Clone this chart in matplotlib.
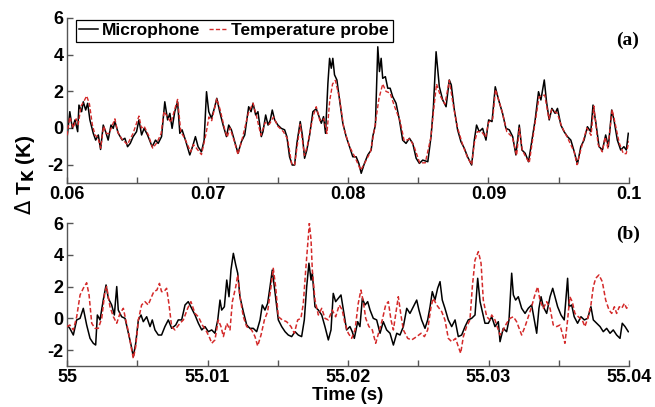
import matplotlib
matplotlib.use("Agg")
import matplotlib.pyplot as plt

# ---------------- Panel (a) data ----------------
a_t_mic = [0.0600, 0.06020, 0.06038, 0.06057, 0.06076, 0.06085, 0.06104, 0.06116, 0.06133, 0.06147,
           0.06163, 0.06187, 0.06204, 0.06223, 0.06239, 0.06258, 0.06275, 0.06293, 0.06313, 0.06329,
           0.06341, 0.06365, 0.06393, 0.06412, 0.06431, 0.06450, 0.06471, 0.06495, 0.06512, 0.06531,
           0.06549, 0.06573, 0.06606, 0.06630, 0.06649, 0.06673, 0.06696, 0.06716, 0.06732, 0.06748,
           0.06767, 0.06787, 0.06803, 0.06819, 0.06843, 0.06874, 0.06897, 0.06914, 0.06933, 0.06957,
           0.06976, 0.06993, 0.07009, 0.07028, 0.07052, 0.07066, 0.07087, 0.07111, 0.07135, 0.07151,
           0.07170, 0.07194, 0.07217, 0.07241, 0.07265, 0.07293, 0.07310, 0.07324, 0.07343, 0.07359,
           0.07383, 0.07395, 0.07414, 0.07431, 0.07447, 0.07461, 0.07478, 0.07501, 0.07525, 0.07549,
           0.07565, 0.07584, 0.07603, 0.07620, 0.07636, 0.07660, 0.07675, 0.07691, 0.07707, 0.07727,
           0.07750, 0.07774, 0.07790, 0.07810, 0.07826, 0.07840, 0.07857, 0.07869, 0.07881, 0.07892,
           0.07904, 0.07921, 0.07940, 0.07963, 0.07987, 0.08011, 0.08034, 0.08058, 0.08077, 0.08094,
           0.08117, 0.08141, 0.08165, 0.08176, 0.08195, 0.08212, 0.08224, 0.08236, 0.08247, 0.08266,
           0.08283, 0.08300, 0.08318, 0.08342, 0.08366, 0.08389, 0.08413, 0.08437, 0.08461, 0.08485,
           0.08508, 0.08532, 0.08568, 0.08591, 0.08608, 0.08627, 0.08650, 0.08674, 0.08698, 0.08721,
           0.08735, 0.08757, 0.08780, 0.08804, 0.08828, 0.08851, 0.08880, 0.08899, 0.08915, 0.08934,
           0.08958, 0.08982, 0.09001, 0.09025, 0.09048, 0.09072, 0.09100, 0.09124, 0.09148, 0.09172,
           0.09195, 0.09219, 0.09238, 0.09261, 0.09285, 0.09309, 0.09332, 0.09356, 0.09373, 0.09397,
           0.09413, 0.09432, 0.09451, 0.09474, 0.09491, 0.09515, 0.09538, 0.09562, 0.09586, 0.09610,
           0.09633, 0.09657, 0.09680, 0.09704, 0.09728, 0.09744, 0.09763, 0.09787, 0.09811, 0.09834,
           0.09853, 0.09877, 0.09893, 0.09917, 0.09941, 0.09964, 0.09981, 0.09995]
a_mic = [-0.56, 0.89, -0.02, 0.44, -0.20, 1.25, 0.89, 1.43, 0.98, 1.35,
         0.44, -0.29, -0.66, -0.38, -1.17, 0.16, -0.20, -0.66, 0.16, -0.02,
         0.35, -0.29, -0.66, -0.56, -1.02, -0.84, -0.47, -0.20, 0.44, -0.38,
         -0.02, -0.38, -1.02, -0.66, -0.84, -0.47, 1.43, 0.44, 0.80, -0.02,
         0.89, 1.43, -0.29, -0.10, -0.66, -1.47, -0.93, -0.47, -1.02, -1.30,
         -0.66, 1.98, 0.89, 0.53, 1.16, 1.62, 0.89, 0.16, -0.47, 0.16,
         -0.10, -0.75, -1.38, -0.75, -0.38, 1.16, 0.89, 1.35, 0.71, 0.89,
         -0.47, -0.20, 0.71, 0.16, 0.44, 0.98, 0.44, 0.16, -0.02, -0.10,
         -0.47, -1.57, -2.02, -2.02, -0.84, 0.35, -0.38, -1.65, -1.20, -0.38,
         0.89, 1.05, 0.71, 0.26, 0.62, -0.29, 2.44, 3.80, 3.26, 3.80,
         2.90, 2.62, 1.53, 0.26, -0.47, -1.02, -1.57, -1.57, -1.93, -2.47,
         -1.93, -1.47, -1.20, -0.47, 0.16, 4.43, 3.08, 3.80, 2.71, 2.80,
         2.17, 2.17, 1.71, 1.35, 0.44, -0.66, -0.84, -0.56, -0.84, -1.65,
         -1.93, -1.75, -1.84, -0.47, 1.16, 4.16, 2.25, 1.53, 1.16, 2.62,
         2.35, 0.98, -0.10, -0.75, -1.11, -1.57, -2.02, -0.66, 0.16, -0.20,
         -0.02, -0.66, 0.44, 0.35, 2.25, 1.53, 0.80, -0.02, -0.10, -0.47,
         -1.47, 0.16, -1.20, -1.38, -1.84, -0.66, 0.44, 1.98, 1.53, 2.62,
         1.43, 0.44, 1.07, 0.80, 1.07, 0.16, -0.20, -0.47, -0.66, -1.29,
         -1.97, -1.02, -0.66, 0.07, -0.20, 1.25, 0.35, -1.02, -1.20, -0.38,
         -1.02, 0.98, 0.44, -0.66, -1.20, -1.02, -1.20, -0.29]

a_t_probe = [0.0600, 0.0602, 0.06045, 0.06065, 0.0608, 0.0610, 0.0612, 0.0614, 0.0616, 0.0618,
             0.0620, 0.0622, 0.0624, 0.0626, 0.0628, 0.0630, 0.0632, 0.06341, 0.0636, 0.0639,
             0.0643, 0.0647, 0.06512, 0.0653, 0.06549, 0.0658, 0.0661, 0.0664, 0.0667, 0.0669,
             0.06716, 0.0674, 0.06787, 0.0681, 0.0684, 0.0688, 0.0690, 0.06957, 0.0699, 0.0701,
             0.0703, 0.07066, 0.0709, 0.0712, 0.0714, 0.0716, 0.0719, 0.07217, 0.0725, 0.0729,
             0.07324, 0.0735, 0.0738, 0.0741, 0.0744, 0.0747, 0.0750, 0.0754, 0.0757, 0.0760,
             0.0762, 0.0764, 0.0766, 0.0769, 0.0771, 0.0775, 0.07774, 0.0780, 0.0783, 0.0785,
             0.0787, 0.0789, 0.0791, 0.0794, 0.0797, 0.0801, 0.0805, 0.0809, 0.0812, 0.0816,
             0.0819, 0.0822, 0.08247, 0.0827, 0.0830, 0.0833, 0.0837, 0.0840, 0.0844, 0.0847,
             0.0851, 0.0855, 0.0859, 0.0861, 0.0863, 0.0866, 0.0869, 0.08721, 0.0875, 0.0878,
             0.0882, 0.0885, 0.0888, 0.0890, 0.0892, 0.0895, 0.0898, 0.0900, 0.0903, 0.0905,
             0.0907, 0.0910, 0.0913, 0.0917, 0.0920, 0.0922, 0.0924, 0.0926, 0.0929, 0.0933,
             0.0936, 0.0940, 0.0943, 0.0945, 0.0949, 0.0952, 0.0956, 0.0961, 0.0963, 0.0966,
             0.0970, 0.0973, 0.0975, 0.0978, 0.0981, 0.0983, 0.0985, 0.0988, 0.0990, 0.0993,
             0.0996, 0.0998, 0.1000]
a_probe = [-0.40, 0.60, 0.00, 0.50, 0.20, 1.20, 1.45, 1.75, 1.30, 0.20,
           -0.40, -0.50, -1.10, 0.10, -0.30, -0.30, 0.10, 0.50, -0.20, -0.60,
           -0.90, -0.30, 0.65, 0.00, 0.10, -0.40, -1.10, -0.80, -0.30, 0.90,
           0.60, 0.30, 1.56, -0.20, -0.60, -1.30, -0.90, -1.45, -0.30, 0.60,
           0.40, 1.60, 1.00, 0.00, -0.50, 0.00, -0.70, -1.45, -0.50, 0.80,
           1.35, 0.60, -0.40, 0.30, 0.20, 0.60, 0.10, -0.20, -0.60, -2.00,
           -2.00, -0.90, 0.20, -1.50, -1.00, 0.60, 1.16, 0.40, 0.50, -0.30,
           1.50, 2.40, 2.60, 1.60, 0.00, -1.00, -1.60, -2.30, -1.90, -1.30,
           0.00, 1.60, 2.40, 2.00, 1.90, 1.20, 0.40, -0.70, -0.60, -1.00,
           -1.90, -1.90, -0.50, 1.00, 2.40, 1.70, 1.30, 2.60, 1.20, 0.00,
           -1.00, -1.60, -2.00, -0.80, -0.20, -0.20, -0.50, 0.30, 0.50, 2.10,
           1.60, 0.80, -0.20, -0.50, -1.50, 0.00, -1.20, -1.50, -1.90, 0.20,
           1.70, 1.80, 0.50, 1.00, 0.80, 0.10, -0.50, -1.30, -2.00, -1.10,
           0.00, -0.40, 1.20, -0.90, -1.30, -0.50, -1.10, 1.00, 0.30, -0.80,
           -1.40, -1.40, -0.70]

# ---------------- Panel (b) data ----------------
b_t_mic = [55.00000, 55.00020, 55.00045, 55.00069, 55.00093, 55.00116, 55.00128, 55.00140, 55.00164, 55.00187,
           55.00204, 55.00216, 55.00235, 55.00258, 55.00278, 55.00294, 55.00318, 55.00337, 55.00354, 55.00365,
           55.00389, 55.00413, 55.00432, 55.00456, 55.00472, 55.00489, 55.00508, 55.00527, 55.00543, 55.00567,
           55.00591, 55.00607, 55.00626, 55.00650, 55.00673, 55.00697, 55.00721, 55.00745, 55.00774, 55.00792,
           55.00816, 55.00840, 55.00863, 55.00887, 55.00911, 55.00935, 55.00959, 55.00982, 55.01006, 55.01030,
           55.01053, 55.01073, 55.01089, 55.01101, 55.01120, 55.01137, 55.01153, 55.01167, 55.01184, 55.01201,
           55.01215, 55.01231, 55.01255, 55.01279, 55.01302, 55.01326, 55.01350, 55.01374, 55.01390, 55.01409,
           55.01428, 55.01445, 55.01461, 55.01480, 55.01504, 55.01528, 55.01552, 55.01575, 55.01599, 55.01623,
           55.01646, 55.01670, 55.01689, 55.01706, 55.01722, 55.01737, 55.01746, 55.01765, 55.01789, 55.01813,
           55.01836, 55.01860, 55.01879, 55.01895, 55.01912, 55.01931, 55.01950, 55.01967, 55.01990, 55.02014,
           55.02030, 55.02045, 55.02069, 55.02085, 55.02102, 55.02121, 55.02140, 55.02157, 55.02180, 55.02204,
           55.02228, 55.02251, 55.02275, 55.02299, 55.02323, 55.02347, 55.02370, 55.02394, 55.02418, 55.02441,
           55.02465, 55.02489, 55.02505, 55.02524, 55.02548, 55.02567, 55.02584, 55.02600, 55.02619, 55.02638,
           55.02655, 55.02671, 55.02690, 55.02714, 55.02738, 55.02762, 55.02785, 55.02809, 55.02833, 55.02856,
           55.02880, 55.02904, 55.02923, 55.02940, 55.02956, 55.02975, 55.02999, 55.03023, 55.03046, 55.03070,
           55.03082, 55.03105, 55.03129, 55.03146, 55.03165, 55.03177, 55.03193, 55.03212, 55.03236, 55.03260,
           55.03283, 55.03307, 55.03326, 55.03343, 55.03359, 55.03374, 55.03390, 55.03414, 55.03438, 55.03457,
           55.03473, 55.03492, 55.03516, 55.03539, 55.03563, 55.03573, 55.03592, 55.03610, 55.03634, 55.03658,
           55.03682, 55.03706, 55.03729, 55.03746, 55.03770, 55.03794, 55.03817, 55.03841, 55.03865, 55.03888,
           55.03912, 55.03936, 55.03952, 55.03972, 55.03995]
b_mic = [-0.42, -0.63, -1.05, -0.10, 0.00, 0.63, 0.10, -0.42, -1.26, -1.57,
         -1.68, 0.21, -0.10, 1.15, 2.10, 1.26, 0.84, 0.21, 2.00, 0.52,
         0.10, 0.00, -0.73, -1.68, -2.41, -1.57, -0.10, 0.21, -0.21, 0.10,
         -0.52, -0.10, -0.73, -1.05, -1.05, -0.52, -0.10, -0.63, -0.42, -0.10,
         -0.10, 0.84, 1.05, 0.63, 0.21, -0.31, -0.73, -0.52, -0.84, -0.73,
         -0.94, -0.10, 1.15, 0.52, 0.73, 2.41, 1.36, 3.04, 4.09, 3.36,
         2.84, 1.36, 0.42, -0.42, -0.63, -0.63, -0.84, -0.10, 0.84, 0.52,
         0.94, 1.99, 3.04, 1.68, -0.10, -0.52, -0.84, -1.05, -1.15, -0.84,
         -1.05, -1.15, -0.10, 1.99, 3.47, 2.41, 2.84, 0.73, 0.52, 0.21,
         -0.52, -1.36, -0.73, 1.57, 1.05, 1.26, 1.47, 0.52, -0.73, -0.52,
         -0.84, -1.26, -0.21, -0.52, 1.26, 0.84, 1.05, 0.52, 0.00, -0.10,
         -0.94, -0.21, -0.73, -0.94, -1.68, -0.94, -1.05, -0.52, 0.63, 0.31,
         0.73, 1.15, 0.52, -0.10, -0.63, -0.10, 0.73, 1.68, 1.15, 1.89,
         2.31, 1.15, 0.63, -0.10, -0.52, -0.10, -1.15, -1.05, -0.52, -0.10,
         0.00, 0.21, 2.52, 1.05, 0.42, -0.31, -0.31, 0.10, -0.52, -0.21,
         -1.47, -0.63, -0.84, -0.10, 2.84, 1.47, 1.15, 1.36, 0.63, 0.31,
         0.63, 0.84, -0.10, -0.94, 0.63, 1.36, 0.73, 0.31, 1.36, 1.89,
         1.36, 0.73, 0.21, -0.10, 2.52, 0.73, 0.84, 0.10, -0.31, 0.10,
         -0.10, 0.00, 0.73, -0.10, -0.31, -0.52, -0.84, -0.63, -0.94, -0.73,
         -1.05, -1.26, -0.31, -0.52, -0.84]

b_t_probe = [55.00000, 55.00020, 55.00045, 55.00069, 55.00093, 55.00116, 55.00140, 55.00157, 55.00176, 55.00199,
             55.00223, 55.00247, 55.00270, 55.00282, 55.00306, 55.00330, 55.00354, 55.00377, 55.00401, 55.00418,
             55.00437, 55.00456, 55.00472, 55.00489, 55.00508, 55.00531, 55.00555, 55.00578, 55.00602, 55.00618,
             55.00640, 55.00658, 55.00673, 55.00690, 55.00709, 55.00725, 55.00745, 55.00768, 55.00804, 55.00828,
             55.00859, 55.00882, 55.00911, 55.00935, 55.00963, 55.00994, 55.01017, 55.01030, 55.01053, 55.01077,
             55.01096, 55.01113, 55.01137, 55.01160, 55.01177, 55.01201, 55.01215, 55.01231, 55.01255, 55.01279,
             55.01314, 55.01338, 55.01357, 55.01381, 55.01405, 55.01428, 55.01452, 55.01468, 55.01485, 55.01504,
             55.01532, 55.01563, 55.01594, 55.01618, 55.01642, 55.01665, 55.01682, 55.01699, 55.01718, 55.01725,
             55.01737, 55.01746, 55.01765, 55.01789, 55.01813, 55.01836, 55.01860, 55.01888, 55.01912, 55.01938,
             55.01959, 55.01978, 55.02002, 55.02026, 55.02050, 55.02073, 55.02092, 55.02109, 55.02126, 55.02149,
             55.02173, 55.02197, 55.02220, 55.02244, 55.02268, 55.02287, 55.02306, 55.02323, 55.02339, 55.02358,
             55.02375, 55.02394, 55.02425, 55.02453, 55.02489, 55.02520, 55.02544, 55.02567, 55.02591, 55.02607,
             55.02631, 55.02667, 55.02690, 55.02714, 55.02738, 55.02766, 55.02785, 55.02802, 55.02821, 55.02844,
             55.02868, 55.02885, 55.02904, 55.02928, 55.02947, 55.02963, 55.02987, 55.03011, 55.03023, 55.03046,
             55.03082, 55.03105, 55.03129, 55.03153, 55.03177, 55.03200, 55.03236, 55.03260, 55.03283, 55.03307,
             55.03326, 55.03350, 55.03366, 55.03390, 55.03414, 55.03438, 55.03461, 55.03485, 55.03509, 55.03525,
             55.03544, 55.03563, 55.03579, 55.03596, 55.03615, 55.03639, 55.03667, 55.03686, 55.03710, 55.03729,
             55.03746, 55.03763, 55.03786, 55.03810, 55.03834, 55.03858, 55.03877, 55.03896, 55.03912, 55.03931,
             55.03948, 55.03967, 55.03983, 55.04000]
b_probe = [-0.52, -0.42, -0.73, 0.10, 1.47, 1.89, 2.24, 1.47, -0.31, -0.63,
           -0.63, 0.00, 1.68, 2.00, 0.73, 0.10, -0.31, 0.31, 0.63, -0.10,
           -0.84, -1.78, -2.52, -1.78, -0.10, 0.84, 1.05, 0.84, 1.36, 1.68,
           1.78, 2.20, 1.68, 1.68, 1.89, 0.94, -0.52, -0.73, -0.31, -0.10,
           0.63, 1.05, 0.31, 0.10, -0.42, -0.84, -1.26, -1.57, -1.36, -0.10,
           -0.52, -1.15, -0.31, -0.73, 1.05, 1.99, 2.73, 1.36, 0.10, -0.52,
           -0.73, -1.15, -1.74, -1.05, -0.10, 0.42, 1.99, 3.15, 1.99, 0.10,
           -0.10, -0.21, -0.52, -0.94, -0.10, 0.00, 0.94, 3.04, 5.14, 5.98,
           4.93, 3.04, 1.15, 0.21, 0.63, 0.00, -0.10, 0.52, 0.10, 0.84,
           0.52, -0.31, -0.94, -1.26, -0.73, 0.94, 1.78, 1.05, 0.00, -0.52,
           -0.73, -1.57, -0.84, -0.10, 0.84, 1.05, -0.10, -0.73, 0.21, 1.36,
           0.31, -0.73, -1.26, -1.36, -1.15, -0.94, -1.15, -0.73, 0.73, 1.26,
           0.84, 0.42, -0.10, -1.26, -1.47, -1.26, -1.78, -2.20, -1.15, -0.52,
           -0.10, 1.99, 3.67, 4.20, 3.47, 1.15, 0.10, -0.10, 0.21, -0.10,
           -1.05, -0.73, -0.31, 0.00, 0.10, -0.21, -1.05, -0.52, 0.10, 0.73,
           1.36, 1.99, 1.15, 0.63, 1.05, 0.63, -0.42, -0.52, -0.42, -0.94,
           -1.57, -0.10, 1.36, 1.05, 0.31, 0.10, -0.10, -0.52, 0.10, 0.84,
           1.99, 2.52, 2.73, 2.31, 1.15, 0.52, 0.31, 0.73, 0.31, 0.73,
           0.63, 0.94, 0.63, 0.84]

a_xticks = [0.06, 0.065, 0.07, 0.075, 0.08, 0.085, 0.09, 0.095, 0.1]
a_xticklabels = ["0.06", "", "0.07", "", "0.08", "", "0.09", "", "0.1"]
b_xticks = [55.0, 55.005, 55.01, 55.015, 55.02, 55.025, 55.03, 55.035, 55.04]
b_xticklabels = ["55", "", "55.01", "", "55.02", "", "55.03", "", "55.04"]
yticks = [-2, 0, 2, 4, 6]

SANS = ["Liberation Sans", "DejaVu Sans"]
SERIF = ["Liberation Serif", "DejaVu Serif"]
plt.rcParams['font.family'] = SANS

fig = plt.figure(figsize=(6.55, 4.07), dpi=100)
W, H = 655.0, 407.0
ax1 = fig.add_axes([67 / W, (H - 183) / H, 562 / W, 165 / H])
ax2 = fig.add_axes([67 / W, (H - 366) / H, 562 / W, 143 / H])

RED = "#d42a2a"
l1, = ax1.plot(a_t_mic, a_mic, color="black", lw=1.1, label="Microphone", zorder=2)
l2, = ax1.plot(a_t_probe, a_probe, color=RED, lw=1.0, ls=(0, (3, 1.6)), label="Temperature probe", zorder=3)
ax2.plot(b_t_mic, b_mic, color="black", lw=1.1, zorder=2)
ax2.plot(b_t_probe, b_probe, color=RED, lw=1.1, ls=(0, (3, 1.6)), zorder=3)

for ax, xt, xl, lim in [(ax1, a_xticks, a_xticklabels, (0.06, 0.1)),
                        (ax2, b_xticks, b_xticklabels, (55.0, 55.04))]:
    ax.set_xlim(*lim)
    ax.set_ylim(-3, 6)
    ax.set_xticks(xt)
    ax.set_xticklabels(xl)
    ax.set_yticks(yticks)
    ax.set_yticklabels([str(v) for v in yticks])
    ax.spines['top'].set_visible(False)
    ax.spines['right'].set_visible(False)
    for s in ('left', 'bottom'):
        ax.spines[s].set_color("#555555")
        ax.spines[s].set_linewidth(1.0)
    ax.tick_params(direction='in', length=4, width=1.0, color="#555555",
                   labelsize=13, pad=2.5)
    for lab in ax.get_xticklabels() + ax.get_yticklabels():
        lab.set_fontweight('bold')

leg = ax1.legend(handles=[l1, l2], loc='upper left', bbox_to_anchor=(7 / 562, 1.0),
                 ncol=2, frameon=True, fancybox=False, framealpha=1,
                 prop={'family': SANS, 'weight': 'bold', 'size': 12.5},
                 handlelength=1.1, handletextpad=0.2, columnspacing=0.5,
                 borderpad=0.2, borderaxespad=0.1)
leg.get_frame().set_edgecolor("black")
leg.get_frame().set_linewidth(0.9)

fig.text(628 / W, (H - 40) / H, "(a)", family=SERIF, weight='bold', fontsize=14,
         ha='center', va='center')
fig.text(628 / W, (H - 234) / H, "(b)", family=SERIF, weight='bold', fontsize=14,
         ha='center', va='center')

fig.text(25 / W, (H - 175) / H, r"$\Delta$ T$_{\mathbf{K}}$ (K)", rotation=90, weight='bold',
         fontsize=15, ha='center', va='center')
fig.text(348 / W, (H - 396) / H, "Time (s)", weight='bold', fontsize=13.5,
         ha='center', va='center')

fig.savefig("out.png", dpi=100)
